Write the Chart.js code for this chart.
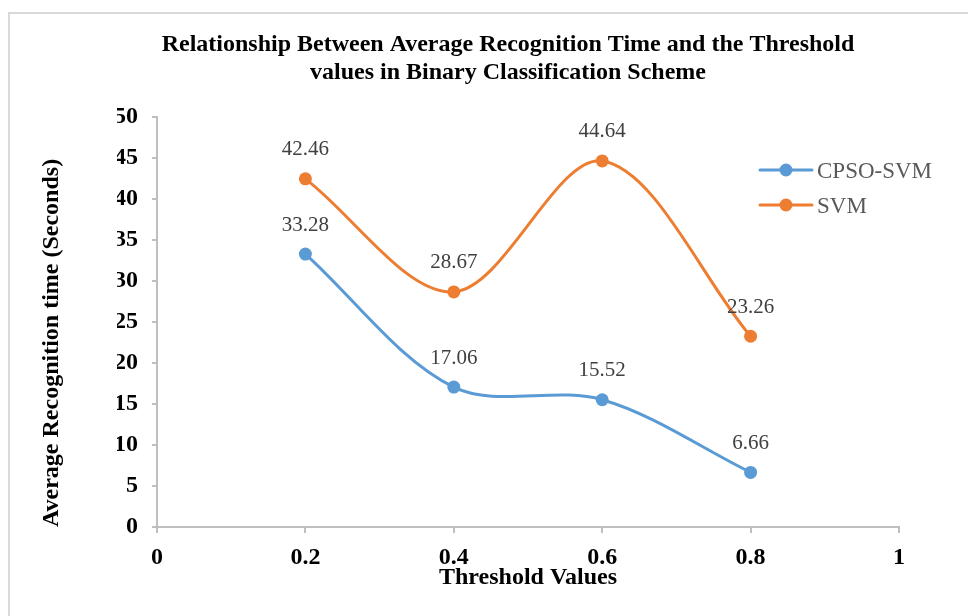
<!DOCTYPE html>
<html><head><meta charset="utf-8">
<script src="https://cdn.jsdelivr.net/npm/chart.js@4/dist/chart.umd.min.js"></script>
<style>html,body{margin:0;padding:0;background:#fff}#wrap{width:968px;height:616px;position:relative}</style>
</head><body><div id="wrap"><canvas id="c" width="968" height="616"></canvas></div>
<script>
const chartTitle = ['Relationship Between Average Recognition Time and the Threshold', 'values in Binary Classification Scheme'];
const seriesNames = ['CPSO-SVM', 'SVM'];
const thresholds = [0.2, 0.4, 0.6, 0.8];
const cpsoSvmTimes = [33.28, 17.06, 15.52, 6.66];
const svmTimes = [42.46, 28.67, 44.64, 23.26];
const xTickLabels = ['0', '0.2', '0.4', '0.6', '0.8', '1'];
const yTickLabels = ['0', '5', '10', '15', '20', '25', '30', '35', '40', '45', '50'];
const xAxisTitle = 'Threshold Values';
const yAxisTitle = 'Average Recognition time (Seconds)';
const seriesColors = ['#5B9BD5', '#ED7D31'];

const SERIF = "'Liberation Serif', 'Times New Roman', serif";
const axisGrey = '#bfbfbf';

function pts(vals) { return thresholds.map((x, i) => ({ x: x, y: vals[i] })); }

const framePlugin = {
  id: 'frame',
  beforeDraw(chart) {
    const ctx = chart.ctx;
    ctx.save();
    ctx.fillStyle = '#ffffff';
    ctx.fillRect(0, 0, chart.width, chart.height);
    ctx.strokeStyle = '#d9d9d9';
    ctx.lineWidth = 2;
    ctx.strokeRect(9, 13, chart.width + 10, chart.height + 10);
    ctx.restore();
  }
};

const valueLabels = {
  id: 'valueLabels',
  afterDatasetsDraw(chart) {
    const ctx = chart.ctx;
    ctx.save();
    ctx.font = '21px ' + SERIF;
    ctx.fillStyle = '#404040';
    ctx.textAlign = 'center';
    ctx.textBaseline = 'middle';
    chart.data.datasets.forEach((ds, di) => {
      const meta = chart.getDatasetMeta(di);
      meta.data.forEach((el, i) => {
        ctx.fillText(String(ds.data[i].y), el.x, el.y - 29);
      });
    });
    ctx.restore();
  }
};

const customLegend = {
  id: 'customLegend',
  afterDraw(chart) {
    const ctx = chart.ctx;
    const a = chart.chartArea;
    const x0 = a.right - 139, y0 = a.top + 53, gap = 35;
    ctx.save();
    chart.data.datasets.forEach((ds, i) => {
      const y = y0 + i * gap;
      ctx.strokeStyle = ds.borderColor;
      ctx.lineWidth = 3;
      ctx.lineCap = 'round';
      ctx.beginPath();
      ctx.moveTo(x0, y);
      ctx.lineTo(x0 + 52, y);
      ctx.stroke();
      ctx.fillStyle = ds.borderColor;
      ctx.beginPath();
      ctx.arc(x0 + 26, y, 6.5, 0, Math.PI * 2);
      ctx.fill();
      ctx.fillStyle = '#595959';
      ctx.font = '23px ' + SERIF;
      ctx.textAlign = 'left';
      ctx.textBaseline = 'middle';
      ctx.fillText(ds.label, x0 + 57, y + 2);
    });
    ctx.restore();
  }
};

new Chart(document.getElementById('c'), {
  type: 'line',
  data: {
    datasets: [
      { label: seriesNames[0], data: pts(cpsoSvmTimes), borderColor: seriesColors[0], backgroundColor: seriesColors[0] },
      { label: seriesNames[1], data: pts(svmTimes), borderColor: seriesColors[1], backgroundColor: seriesColors[1] }
    ]
  },
  options: {
    responsive: false,
    animation: false,
    devicePixelRatio: 1,
    layout: { padding: { left: 117, right: 69, top: 0, bottom: 0 } },
    elements: {
      line: { borderWidth: 3, tension: 0.33, fill: false, borderCapStyle: 'round' },
      point: { radius: 6.5, borderWidth: 0, hoverRadius: 6.5 }
    },
    plugins: {
      legend: { display: false },
      tooltip: { enabled: false },
      title: {
        display: true,
        text: chartTitle,
        color: '#000000',
        font: { family: SERIF, size: 24, weight: 'bold', lineHeight: '28px' },
        padding: { top: 31, bottom: 30 }
      }
    },
    scales: {
      x: {
        type: 'linear',
        min: 0, max: 1,
        afterFit(s) { s.height = 89; },
        afterBuildTicks(s) { s.ticks = xTickLabels.map(t => ({ value: parseFloat(t) })); },
        ticks: {
          callback: (v, i) => xTickLabels[i],
          color: '#000000',
          font: { family: SERIF, size: 24, weight: 'bold' },
          padding: 10,
          maxRotation: 0
        },
        grid: { drawOnChartArea: false, drawTicks: true, tickLength: 6, color: axisGrey, lineWidth: 2 },
        border: { display: true, color: axisGrey, width: 2 },
        title: {
          display: true, text: xAxisTitle, color: '#000000',
          font: { family: SERIF, size: 24, weight: 'bold', lineHeight: 1.2 },
          padding: { top: 0, bottom: 24 }
        }
      },
      y: {
        type: 'linear',
        min: 0, max: 50,
        afterFit(s) { s.width = 40; },
        afterBuildTicks(s) { s.ticks = yTickLabels.map(t => ({ value: parseFloat(t) })); },
        ticks: {
          callback: (v, i) => yTickLabels[i],
          color: '#000000',
          font: { family: SERIF, size: 24, weight: 'bold' },
          padding: 14
        },
        grid: { drawOnChartArea: false, drawTicks: true, tickLength: 5, color: axisGrey, lineWidth: 2 },
        border: { display: true, color: axisGrey, width: 2 },
        title: {
          display: true, text: yAxisTitle, color: '#000000', align: 'start',
          font: { family: SERIF, size: 24, weight: 'bold', lineHeight: 1.2 },
          padding: { top: -79.4, bottom: 0 }
        }
      }
    }
  },
  plugins: [framePlugin, valueLabels, customLegend]
});
</script></body></html>
